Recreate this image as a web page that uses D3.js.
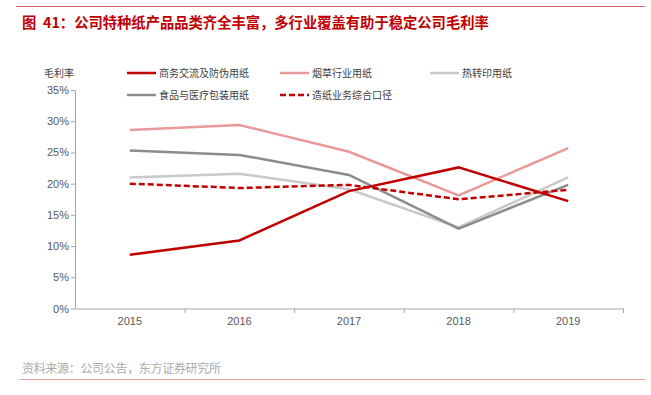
<!DOCTYPE html>
<html><head><meta charset="utf-8">
<script src="https://cdn.jsdelivr.net/npm/d3@7"></script>
<style>body{margin:0;background:#fff}svg{display:block;font-family:"Noto Sans CJK SC","Noto Sans",sans-serif}</style>
</head><body><svg id="c" width="651" height="395"></svg>
<script>
const years = ["2015","2016","2017","2018","2019"];
const yTicks = [0,5,10,15,20,25,30,35];
const seriesNames = ["商务交流及防伪用纸","烟草行业用纸","热转印用纸","食品与医疗包装用纸","造纸业务综合口径"];
const anti = [8.6,10.9,18.8,22.6,17.2];
const tobacco = [28.6,29.4,25.1,18.1,25.7];
const thermal = [21.0,21.6,19.1,13.0,21.0];
const food = [25.3,24.6,21.4,12.8,19.8];
const overall = [20.0,19.3,19.8,17.5,19.0];

const svg = d3.select("#c");
const styles = [
  {c:"#C00000",d:null},{c:"#E8999A",d:null},{c:"#C9C9C9",d:null},{c:"#8C8C8C",d:null},{c:"#C00000",d:"6,3"}
];
const data = [anti,tobacco,thermal,food,overall];

// header / footer
svg.append("line").attr("x1",16).attr("x2",645).attr("y1",6.5).attr("y2",6.5).attr("stroke","#E06060").attr("stroke-width",1);
const title = svg.append("text").attr("y",28).attr("fill","#C00000").attr("font-size",14.3).attr("font-weight","bold");
title.append("tspan").attr("x",22).text("图");
title.append("tspan").attr("x",43).text("41：公司特种纸产品品类齐全丰富，多行业覆盖有助于稳定公司毛利率");
svg.append("text").attr("x",22).attr("y",373).attr("fill","#ABABAB").attr("font-size",12).attr("textLength",199).text("资料来源：公司公告，东方证券研究所");
svg.append("line").attr("x1",20).attr("x2",645).attr("y1",379.5).attr("y2",379.5).attr("stroke","#E8999A").attr("stroke-width",1);

const x = d3.scaleBand().domain(years).range([75,623]);
const y = d3.scaleLinear().domain([0,35]).range([308.5,90]);

const yAxis = svg.append("g").attr("transform","translate(75,0)")
  .call(d3.axisLeft(y).tickValues(yTicks).tickFormat(d=>d+"%").tickSize(4).tickSizeOuter(0));
yAxis.select(".domain").attr("stroke","#A6A6A6");
yAxis.selectAll(".tick line").attr("stroke","#A6A6A6");
yAxis.selectAll("text").attr("fill","#595959").attr("font-size",11).attr("font-family","Liberation Sans, Arial, sans-serif").attr("x",-6);

const xAxis = svg.append("g").attr("transform","translate(0,308.5)")
  .call(d3.axisBottom(x).tickSize(0).tickSizeOuter(0));
xAxis.select(".domain").attr("stroke","#A6A6A6");
xAxis.selectAll("text").attr("fill","#595959").attr("font-size",11).attr("font-family","Liberation Sans, Arial, sans-serif").attr("dy","1.2em");
// boundary ticks
const bounds = years.map(d=>x(d)).concat([x(years[4])+x.bandwidth()]).slice(1);
svg.append("g").selectAll("line").data(bounds).join("line")
  .attr("x1",d=>d+0.5).attr("x2",d=>d+0.5).attr("y1",308.5).attr("y2",313).attr("stroke","#A6A6A6");

svg.append("text").attr("x",44).attr("y",76.5).attr("fill","#404040").attr("font-size",10).text("毛利率");

const line = d3.line().x((d,i)=>x(years[i])+x.bandwidth()/2).y(d=>y(d));
const order = [2,3,1,4,0];
order.forEach(k=>{
  svg.append("path").attr("d",line(data[k])).attr("fill","none").attr("stroke",styles[k].c)
    .attr("stroke-width",2.5).attr("stroke-dasharray",styles[k].d);
});

// legend
const legPos = [[127,73],[280,73],[430,73],[127,95],[280,95]];
seriesNames.forEach((n,k)=>{
  const [lx,ly] = legPos[k];
  svg.append("line").attr("x1",lx).attr("x2",lx+29).attr("y1",ly).attr("y2",ly).attr("stroke",styles[k].c)
    .attr("stroke-width",2.5).attr("stroke-dasharray",styles[k].d);
  svg.append("text").attr("x",lx+32).attr("y",ly+3.5).attr("fill","#404040").attr("font-size",10).text(n);
});
</script></body></html>
